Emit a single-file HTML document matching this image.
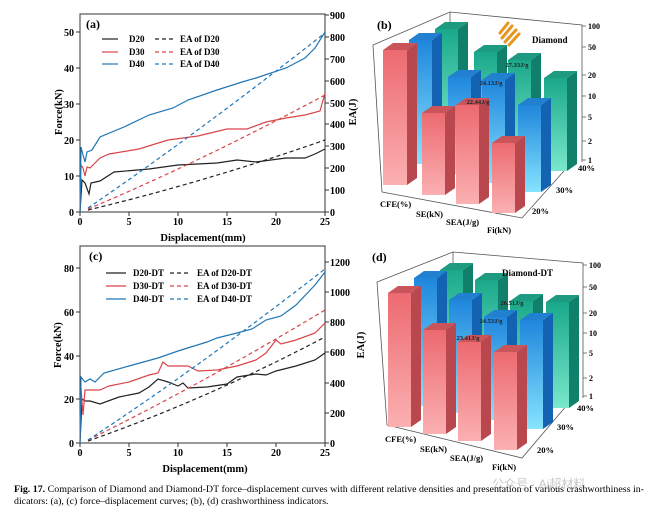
<!DOCTYPE html>
<html><head><meta charset="utf-8"><style>
body{margin:0;background:#fff;}
svg{display:block;font-family:"Liberation Serif",serif;}
.t{font-size:10px;font-weight:bold;}
.lg{font-size:9px;font-weight:bold;}
.ax{font-size:10.5px;font-weight:bold;}
.cap{font-size:9.9px;}
</style></head><body>
<svg width="650" height="512" viewBox="0 0 650 512" xmlns="http://www.w3.org/2000/svg">
<defs>
<linearGradient id="rf" x1="0" y1="0" x2="0" y2="1"><stop offset="0" stop-color="#ec6a70"/><stop offset="1" stop-color="#fbb0b2"/></linearGradient>
<linearGradient id="bf" x1="0" y1="0" x2="0" y2="1"><stop offset="0" stop-color="#1f86dc"/><stop offset="1" stop-color="#86e4ff"/></linearGradient>
<linearGradient id="gf" x1="0" y1="0" x2="0" y2="1"><stop offset="0" stop-color="#1aa88a"/><stop offset="1" stop-color="#7ae8cc"/></linearGradient>
</defs>

<!-- ===== Panel (a) ===== -->
<rect x="80" y="14" width="245" height="198" fill="none" stroke="#333" stroke-width="1"/>
<g stroke="#333" stroke-width="1">
<path d="M76 212H80M76 176H80M76 140H80M76 104H80M76 68H80M76 32H80"/>
<path d="M80 212V216M129 212V216M178 212V216M227 212V216M276 212V216M325 212V216"/>
<path d="M325 212H329M325 190H329M325 168H329M325 146H329M325 124H329M325 103H329M325 81H329M325 59H329M325 37H329M325 15H329"/>
</g>
<g class="t" text-anchor="end">
<text x="74" y="216">0</text><text x="74" y="180">10</text><text x="74" y="144">20</text><text x="74" y="108">30</text><text x="74" y="72">40</text><text x="74" y="36">50</text>
</g>
<g class="t" text-anchor="middle">
<text x="80" y="225">0</text><text x="129" y="225">5</text><text x="178" y="225">10</text><text x="227" y="225">15</text><text x="276" y="225">20</text><text x="325" y="225">25</text>
</g>
<g class="t">
<text x="330" y="216">0</text><text x="330" y="194">100</text><text x="330" y="172">200</text><text x="330" y="150">300</text><text x="330" y="128">400</text><text x="330" y="107">500</text><text x="330" y="85">600</text><text x="330" y="63">700</text><text x="330" y="41">800</text><text x="330" y="19">900</text>
</g>
<text class="ax" x="203" y="241" text-anchor="middle">Displacement(mm)</text>
<text class="ax" transform="translate(62,112) rotate(-90)" text-anchor="middle">Force(kN)</text>
<text class="ax" transform="translate(356,112) rotate(-90)" text-anchor="middle">EA(J)</text>
<text x="86" y="28" style="font-size:12px;font-weight:bold">(a)</text>
<g stroke-width="1.2" fill="none">
<path d="M102 39H118" stroke="#222"/><path d="M102 52H118" stroke="#d9464a"/><path d="M102 64H118" stroke="#1f77b4"/>
<path d="M155 39H175" stroke="#222" stroke-dasharray="4,3"/><path d="M155 52H175" stroke="#d9464a" stroke-dasharray="4,3"/><path d="M155 64H175" stroke="#1f77b4" stroke-dasharray="4,3"/>
</g>
<g class="lg"><text x="129" y="42">D20</text><text x="129" y="55">D30</text><text x="129" y="67">D40</text>
<text x="180" y="42">EA of D20</text><text x="180" y="55">EA of D30</text><text x="180" y="67">EA of D40</text></g>
<g fill="none" stroke-width="1.2">
<path stroke="#222" d="M80 212L82 180L85 183L89 194L91 183L100 181L114 172L149 169L178 165L217 163L237 160L256 162L286 158L305 158L315 154L325 149"/>
<path stroke="#d9464a" d="M80 212L81 165L83 168L85 176L87 167L90 168L100 158L109 154L139 149L168 140L198 136L227 129L247 129L266 122L286 118L305 115L320 111L325 93"/>
<path stroke="#1f77b4" d="M80 212L81 147L83 155L85 162L87 152L92 150L100 137L124 127L149 115L173 108L188 100L217 90L242 82L256 78L286 68L305 58L315 48L325 32"/>
<path stroke="#222" stroke-dasharray="4,3" d="M88 210Q205 182 325 140"/>
<path stroke="#d9464a" stroke-dasharray="4,3" d="M88 209Q200 162 325 95"/>
<path stroke="#1f77b4" stroke-dasharray="4,3" d="M88 208Q195 135 325 33"/>
</g>

<!-- ===== Panel (c) ===== -->
<rect x="80" y="246" width="245" height="197" fill="none" stroke="#333" stroke-width="1"/>
<g stroke="#333" stroke-width="1">
<path d="M76 443H80M76 399H80M76 356H80M76 312H80M76 268H80"/>
<path d="M80 443V447M129 443V447M178 443V447M227 443V447M276 443V447M325 443V447"/>
<path d="M325 443H329M325 413H329M325 383H329M325 352H329M325 322H329M325 292H329M325 262H329"/>
</g>
<g class="t" text-anchor="end">
<text x="74" y="447">0</text><text x="74" y="403">20</text><text x="74" y="360">40</text><text x="74" y="316">60</text><text x="74" y="272">80</text>
</g>
<g class="t" text-anchor="middle">
<text x="80" y="456">0</text><text x="129" y="456">5</text><text x="178" y="456">10</text><text x="227" y="456">15</text><text x="276" y="456">20</text><text x="325" y="456">25</text>
</g>
<g class="t">
<text x="330" y="447">0</text><text x="330" y="417">200</text><text x="330" y="387">400</text><text x="330" y="356">600</text><text x="330" y="326">800</text><text x="330" y="296">1000</text><text x="330" y="266">1200</text>
</g>
<text class="ax" x="205" y="472" text-anchor="middle">Displacement(mm)</text>
<text class="ax" transform="translate(61,345) rotate(-90)" text-anchor="middle">Force(kN)</text>
<text class="ax" transform="translate(364,345) rotate(-90)" text-anchor="middle">EA(J)</text>
<text x="89" y="260" style="font-size:12px;font-weight:bold">(c)</text>
<g stroke-width="1.2" fill="none">
<path d="M106 273H126" stroke="#222"/><path d="M106 286H126" stroke="#d9464a"/><path d="M106 299H126" stroke="#1f77b4"/>
<path d="M170 273H191" stroke="#222" stroke-dasharray="4,3"/><path d="M170 286H191" stroke="#d9464a" stroke-dasharray="4,3"/><path d="M170 299H191" stroke="#1f77b4" stroke-dasharray="4,3"/>
</g>
<g class="lg"><text x="133" y="276">D20-DT</text><text x="133" y="289">D30-DT</text><text x="133" y="302">D40-DT</text>
<text x="197" y="276">EA of D20-DT</text><text x="197" y="289">EA of D30-DT</text><text x="197" y="302">EA of D40-DT</text></g>
<g fill="none" stroke-width="1.2">
<path stroke="#222" d="M80 443L82 399L85 401L90 401L100 404L119 397L139 393L149 387L158 379L168 382L178 386L183 383L188 388L207 387L227 384L237 377L256 374L266 375L276 371L296 366L315 360L325 353"/>
<path stroke="#d9464a" d="M80 443L81 388L83 415L85 390L100 390L109 386L129 382L149 375L158 373L163 362L168 366L188 366L198 371L217 370L237 366L256 360L266 353L276 340L281 344L296 340L315 333L325 323"/>
<path stroke="#1f77b4" d="M80 443L81 377L85 382L90 379L95 382L104 373L129 366L158 358L178 351L207 342L217 338L237 333L252 329L266 320L281 316L296 305L315 285L325 272"/>
<path stroke="#222" stroke-dasharray="4,3" d="M88 441Q205 400 325 337"/>
<path stroke="#d9464a" stroke-dasharray="4,3" d="M88 440Q200 385 325 310"/>
<path stroke="#1f77b4" stroke-dasharray="4,3" d="M88 440Q195 370 325 269"/>
</g>

<!-- ===== Panel (b) ===== -->
<g fill="none" stroke="#555" stroke-width="0.8">
<path d="M382 192L373 45L450 12L582 25V162"/>
<path d="M450 12V60"/>
<path d="M382 192L522 218L572 162"/>
<path d="M582 26h4M582 47h4M582 75h4M582 96h4M582 117h4M582 141h4M582 160h4"/>
</g>
<g style="font-size:8px;font-weight:bold">
<text x="588" y="29">100</text><text x="588" y="50">50</text><text x="588" y="78">20</text><text x="588" y="99">10</text><text x="588" y="120">5</text><text x="588" y="144">2</text><text x="588" y="163">1</text>
</g>
<text x="377" y="29" style="font-size:12px;font-weight:bold">(b)</text>
<g fill="url(#gf)"><path d="M435 29H458V143H435Z"/><path d="M474 52H497V153H474Z"/><path d="M508 60H531V162H508Z"/><path d="M544 78H567V171H544Z"/></g>
<g fill="#11806a"><path d="M458 29L468 22V136L458 143Z"/><path d="M497 52L507 45V146L497 153Z"/><path d="M531 60L541 53V155L531 162Z"/><path d="M567 78L577 71V164L567 171Z"/></g>
<g fill="#1d9a80"><path d="M435 29L445 22H468L458 29Z"/><path d="M474 52L484 45H507L497 52Z"/><path d="M508 60L518 53H541L531 60Z"/><path d="M544 78L554 71H577L567 78Z"/></g>
<g fill="url(#bf)"><path d="M409 40H432V164H409Z"/><path d="M448 77H471V174H448Z"/><path d="M482 80H505V183H482Z"/><path d="M518 105H541V192H518Z"/></g>
<g fill="#1462b2"><path d="M432 40L442 33V157L432 164Z"/><path d="M471 77L481 70V167L471 174Z"/><path d="M505 80L515 73V176L505 183Z"/><path d="M541 105L551 98V185L541 192Z"/></g>
<g fill="#2280d0"><path d="M409 40L419 33H442L432 40Z"/><path d="M448 77L458 70H481L471 77Z"/><path d="M482 80L492 73H515L505 80Z"/><path d="M518 105L528 98H551L541 105Z"/></g>
<g fill="url(#rf)"><path d="M383 50H407V185H383Z"/><path d="M422 113H445V195H422Z"/><path d="M456 105H479V204H456Z"/><path d="M492 143H515V213H492Z"/></g>
<g fill="#b8474e"><path d="M407 50L417 43V178L407 185Z"/><path d="M445 113L455 106V188L445 195Z"/><path d="M479 105L489 98V197L479 204Z"/><path d="M515 143L525 136V206L515 213Z"/></g>
<g fill="#c9545a"><path d="M383 50L393 43H417L407 50Z"/><path d="M422 113L432 106H455L445 113Z"/><path d="M456 105L466 98H489L479 105Z"/><path d="M492 143L502 136H525L515 143Z"/></g>
<g style="font-size:6.5px;font-weight:bold" fill="#222" text-anchor="middle">
<text x="478" y="104">22.44J/g</text><text x="491" y="85">24.13J/g</text><text x="517" y="67">27.33J/g</text>
</g>
<g stroke="#e8961e" stroke-width="3" stroke-linecap="round"><path d="M502 38L512 26M505 42L516 30M509 45L519 34M500 33L508 23"/></g>
<text x="532" y="43" style="font-size:9px;font-weight:bold">Diamond</text>
<g style="font-size:8.5px;font-weight:bold">
<text x="380" y="207">CFE(%)</text><text x="416" y="217">SE(kN)</text><text x="446" y="225">SEA(J/g)</text><text x="487" y="233">Fi(kN)</text>
<text x="532" y="214">20%</text><text x="556" y="193">30%</text><text x="578" y="171">40%</text>
</g>

<!-- ===== Panel (d) ===== -->
<g fill="none" stroke="#555" stroke-width="0.8">
<path d="M387 425L377 282L453 252L583 263V398"/>
<path d="M453 252V300"/>
<path d="M387 425L522 458L573 398"/>
<path d="M583 265h4M583 287h4M583 313h4M583 333h4M583 353h4M583 378h4M583 396h4"/>
</g>
<g style="font-size:8px;font-weight:bold">
<text x="589" y="268">100</text><text x="589" y="290">50</text><text x="589" y="316">20</text><text x="589" y="336">10</text><text x="589" y="356">5</text><text x="589" y="381">2</text><text x="589" y="399">1</text>
</g>
<text x="372" y="261" style="font-size:12px;font-weight:bold">(d)</text>
<g fill="url(#gf)"><path d="M440 270H463V385H440Z"/><path d="M475 280H498V392H475Z"/><path d="M510 301H533V399H510Z"/><path d="M546 302H569V408H546Z"/></g>
<g fill="#11806a"><path d="M463 270L473 263V378L463 385Z"/><path d="M498 280L508 273V385L498 392Z"/><path d="M533 301L543 294V392L533 399Z"/><path d="M569 302L579 295V401L569 408Z"/></g>
<g fill="#1d9a80"><path d="M440 270L450 263H473L463 270Z"/><path d="M475 280L485 273H508L498 280Z"/><path d="M510 301L520 294H543L533 301Z"/><path d="M546 302L556 295H579L569 302Z"/></g>
<g fill="url(#bf)"><path d="M414 278H437V406H414Z"/><path d="M449 300H472V413H449Z"/><path d="M484 317H507V420H484Z"/><path d="M520 320H543V429H520Z"/></g>
<g fill="#1462b2"><path d="M437 278L447 271V399L437 406Z"/><path d="M472 300L482 293V406L472 413Z"/><path d="M507 317L517 310V413L507 420Z"/><path d="M543 320L553 313V422L543 429Z"/></g>
<g fill="#2280d0"><path d="M414 278L424 271H447L437 278Z"/><path d="M449 300L459 293H482L472 300Z"/><path d="M484 317L494 310H517L507 317Z"/><path d="M520 320L530 313H553L543 320Z"/></g>
<g fill="url(#rf)"><path d="M388 293H411V427H388Z"/><path d="M423 330H446V434H423Z"/><path d="M458 342H481V441H458Z"/><path d="M494 352H517V450H494Z"/></g>
<g fill="#b8474e"><path d="M411 293L421 286V420L411 427Z"/><path d="M446 330L456 323V427L446 434Z"/><path d="M481 342L491 335V434L481 441Z"/><path d="M517 352L527 345V443L517 450Z"/></g>
<g fill="#c9545a"><path d="M388 293L398 286H421L411 293Z"/><path d="M423 330L433 323H456L446 330Z"/><path d="M458 342L468 335H491L481 342Z"/><path d="M494 352L504 345H527L517 352Z"/></g>
<g style="font-size:6.5px;font-weight:bold" fill="#222" text-anchor="middle">
<text x="468" y="340">23.41J/g</text><text x="491" y="323">24.53J/g</text><text x="512" y="305">26.51J/g</text>
</g>
<text x="502" y="276" style="font-size:9px;font-weight:bold">Diamond-DT</text>
<g style="font-size:8.5px;font-weight:bold">
<text x="385" y="442">CFE(%)</text><text x="420" y="452">SE(kN)</text><text x="450" y="461">SEA(J/g)</text><text x="492" y="470">Fi(kN)</text>
<text x="537" y="453">20%</text><text x="557" y="430">30%</text><text x="577" y="411">40%</text>
</g>

<!-- caption -->
<text x="492" y="488" style="font-size:12px" fill="#c8c8c8" font-family="'Liberation Sans','Noto Sans CJK SC',sans-serif">公众号 · Ai超材料</text>
<text class="cap" x="14" y="492" textLength="630" lengthAdjust="spacingAndGlyphs"><tspan font-weight="bold">Fig. 17.</tspan> Comparison of Diamond and Diamond-DT force–displacement curves with different relative densities and presentation of various crashworthiness in-</text>
<text class="cap" x="14" y="504">dicators: (a), (c) force–displacement curves; (b), (d) crashworthiness indicators.</text>
</svg>
</body></html>
